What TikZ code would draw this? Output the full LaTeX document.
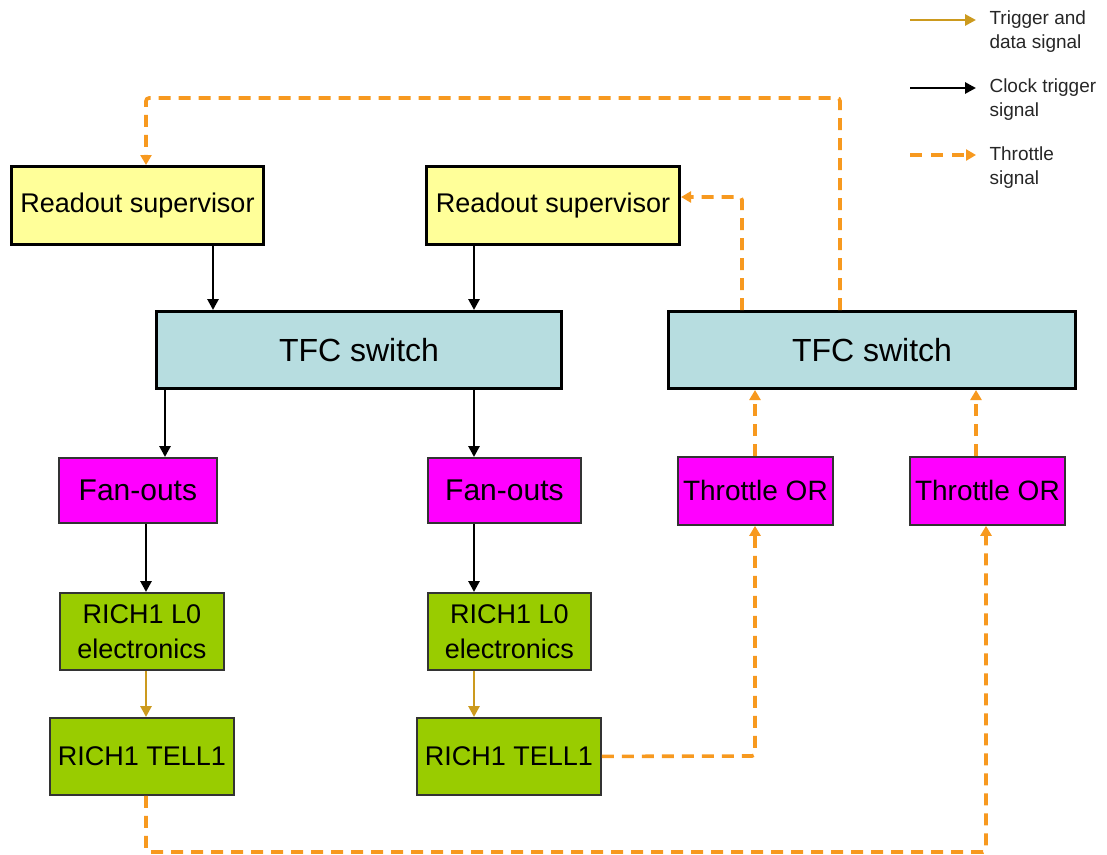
\documentclass[tikz,border=0pt]{standalone}
\usepackage{fontspec}
\setmainfont{Liberation Sans}
\usetikzlibrary{arrows.meta}
\definecolor{supyellow}{HTML}{FFFF99}
\definecolor{tfcblue}{HTML}{B7DDE0}
\definecolor{fanmag}{HTML}{FF00FF}
\definecolor{richgreen}{HTML}{99CC00}
\definecolor{trigold}{HTML}{CC9A1E}
\definecolor{thrott}{HTML}{F7991F}
\tikzset{
  x=1pt, y=-1pt,
  blk/.style={draw=black, line width=3pt, inner sep=0pt, anchor=north west},
  thin blk/.style={draw=black!80, line width=1.8pt, inner sep=0pt, anchor=north west},
  sup/.style={blk, fill=supyellow, font=\fontsize{27}{30}\selectfont},
  tfc/.style={blk, fill=tfcblue, font=\fontsize{32}{36}\selectfont},
  fan/.style={thin blk, fill=fanmag, font=\fontsize{30}{34}\selectfont},
  thr/.style={thin blk, fill=fanmag, font=\fontsize{28}{32}\selectfont},
  rich/.style={thin blk, fill=richgreen, font=\fontsize{27}{35}\selectfont, align=center},
  clk/.style={draw=black, line width=2.8pt, -{Triangle[length=11pt,width=11pt]}},
  dat/.style={draw=trigold, line width=2.8pt, -{Triangle[length=11pt,width=11pt]}},
  thl/.style={draw=thrott, line width=3.6pt, dash pattern=on 12pt off 8pt, rounded corners=3pt,
              -{Triangle[length=10pt,width=11pt]}},
  leg/.style={anchor=west, align=left, font=\fontsize{19}{24}\selectfont, text=black!85},
}
\begin{document}
\begin{tikzpicture}
\useasboundingbox (0,0) rectangle (1107,854);

% readout supervisors
\node[sup, minimum width=252pt, minimum height=78pt] (rs1) at (10,165) {Readout supervisor};
\node[sup, minimum width=253pt, minimum height=78pt] (rs2) at (425,165) {Readout supervisor};

% TFC switches
\node[tfc, minimum width=405pt, minimum height=77pt] (tfc1) at (155,310) {TFC switch};
\node[tfc, minimum width=407pt, minimum height=77pt] (tfc2) at (667,310) {TFC switch};

% fan-outs and throttle ORs
\node[fan, minimum width=158pt, minimum height=65pt] (fo1) at (58,457) {Fan-outs};
\node[fan, minimum width=153pt, minimum height=65pt] (fo2) at (427,457) {Fan-outs};
\node[thr, minimum width=155pt, minimum height=68pt] (or1) at (677,456) {Throttle OR};
\node[thr, minimum width=155pt, minimum height=68pt] (or2) at (909,456) {Throttle OR};

% RICH1 front-end and readout boards
\node[rich, minimum width=164pt, minimum height=77pt] (l01) at (59,592) {RICH1 L0\\electronics};
\node[rich, minimum width=163pt, minimum height=77pt] (l02) at (427,592) {RICH1 L0\\electronics};
\node[rich, minimum width=184pt, minimum height=77pt] (tl1) at (49,717) {RICH1 TELL1};
\node[rich, minimum width=184pt, minimum height=77pt] (tl2) at (416,717) {RICH1 TELL1};

% clock trigger signals
\draw[clk] (rs1.south -| 213,0) -- (tfc1.north -| 213,0);
\draw[clk] (rs2.south -| 474,0) -- (tfc1.north -| 474,0);
\draw[clk] (tfc1.south -| 165,0) -- (fo1.north -| 165,0);
\draw[clk] (tfc1.south -| 474,0) -- (fo2.north -| 474,0);
\draw[clk] (fo1.south -| 146,0) -- (l01.north -| 146,0);
\draw[clk] (fo2.south -| 474,0) -- (l02.north -| 474,0);

% trigger and data signals
\draw[dat] (l01.south -| 146,0) -- (tl1.north -| 146,0);
\draw[dat] (l02.south -| 474,0) -- (tl2.north -| 474,0);

% throttle signals
\draw[thl] (tl2.east) -- (755,756) -- (or1.south -| 755,0);
\draw[thl] (tl1.south -| 146,0) -- (146,852) -- (986,852) -- (or2.south -| 986,0);
\draw[thl] (or1.north -| 755,0) -- (tfc2.south -| 755,0);
\draw[thl] (or2.north -| 976,0) -- (tfc2.south -| 976,0);
\draw[thl] (tfc2.north -| 742,0) -- (742,197) -- (rs2.east |- 0,197);
\draw[thl] (tfc2.north -| 840,0) -- (840,98) -- (146,98) -- (rs1.north -| 146,0);

% legend
\coordinate (la) at (910,20);  \coordinate (lb) at (976,20);
\coordinate (lc) at (910,88);  \coordinate (ld) at (976,88);
\coordinate (le) at (910,155); \coordinate (lf) at (976,155);
\draw[dat] (la) -- (lb);
\draw[clk] (lc) -- (ld);
\draw[thl, dash pattern=on 12pt off 9pt] (le) -- (lf);
\node[leg] (t1) at (986,32) {Trigger and\\data signal};
\node[leg] (t2) at (986,100) {Clock trigger\\signal};
\node[leg] (t3) at (986,168) {Throttle\\signal};
\end{tikzpicture}
\end{document}
